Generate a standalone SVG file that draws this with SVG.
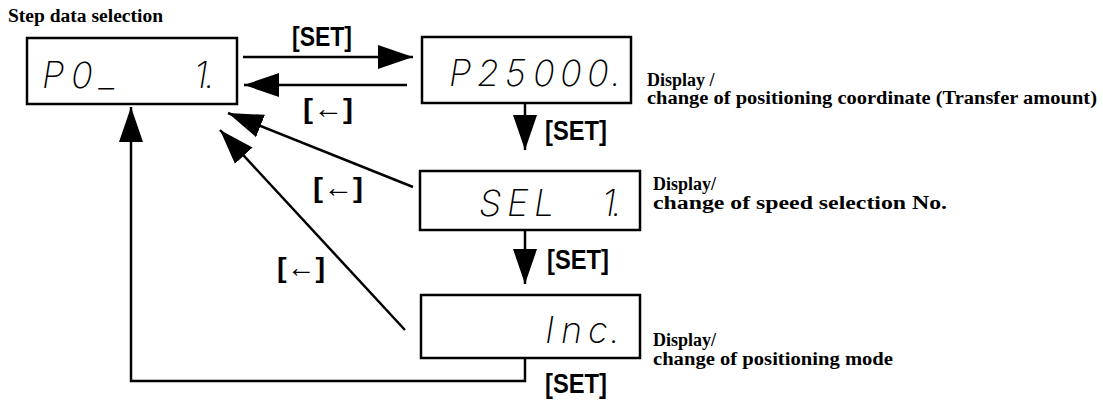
<svg xmlns="http://www.w3.org/2000/svg" width="1103" height="401" viewBox="0 0 1103 401">
<style>
.box{fill:#fff;stroke:#000;stroke-width:2.5}
.seg{font-family:Inter,"DejaVu Sans",sans-serif;font-weight:200;font-style:italic;font-size:36px;fill:#000}
.key{font-family:"Liberation Sans",sans-serif;font-weight:bold;font-size:28px;fill:#000}
.note{font-family:"Liberation Serif",serif;font-weight:bold;font-size:18px;fill:#000}
.ln{stroke:#000;stroke-width:2.5;fill:none}
</style>
<defs>
<marker id="ah" markerUnits="userSpaceOnUse" markerWidth="36" markerHeight="26" refX="35" refY="12" orient="auto" viewBox="0 0 36 24">
<path d="M0,0 L35,12 L0,24 Z" fill="#000"/>
</marker>
</defs>
<text class="note" x="8" y="22" textLength="155" lengthAdjust="spacingAndGlyphs">Step data selection</text>

<g id="connectors">
<line class="ln" x1="243" y1="57" x2="413" y2="57" marker-end="url(#ah)"/>
<line class="ln" x1="407" y1="85" x2="244" y2="85" marker-end="url(#ah)"/>
<line class="ln" x1="525" y1="103" x2="525" y2="150" marker-end="url(#ah)"/>
<line class="ln" x1="525" y1="230" x2="525" y2="284" marker-end="url(#ah)"/>
<line class="ln" x1="413" y1="187" x2="228" y2="113" marker-end="url(#ah)"/>
<line class="ln" x1="405" y1="330" x2="220" y2="130" marker-end="url(#ah)"/>
<polyline class="ln" points="525,358 525,381 131,381 131,107" marker-end="url(#ah)"/>
<text class="key" x="292" y="46" textLength="60" lengthAdjust="spacingAndGlyphs">[SET]</text>
<text class="key" x="303" y="118" textLength="50" lengthAdjust="spacingAndGlyphs">[←]</text>
<text class="key" x="545" y="140" textLength="62" lengthAdjust="spacingAndGlyphs">[SET]</text>
<text class="key" x="313" y="197" textLength="50" lengthAdjust="spacingAndGlyphs">[←]</text>
<text class="key" x="547" y="269" textLength="62" lengthAdjust="spacingAndGlyphs">[SET]</text>
<text class="key" x="277" y="277" textLength="48" lengthAdjust="spacingAndGlyphs">[←]</text>
<text class="key" x="545" y="393" textLength="62" lengthAdjust="spacingAndGlyphs">[SET]</text>
</g>

<g id="node-step">
<rect class="box" x="27" y="38" width="210" height="66"/>
<text class="seg" x="42 71 100 194 205" y="88">P0_1.</text>
</g>

<g id="node-coord">
<rect class="box" x="422" y="37" width="209" height="66"/>
<text class="seg" x="449 477 505 533 560 587 611" y="86">P25000.</text>
<text class="note" x="647" y="86">Display /</text>
<text class="note" x="647" y="104" textLength="450" lengthAdjust="spacingAndGlyphs">change of positioning coordinate (Transfer amount)</text>
</g>

<g id="node-speed">
<rect class="box" x="420" y="171" width="220" height="59"/>
<text class="seg" x="479 507 534 602 612" y="216">SEL1.</text>
<text class="note" x="653" y="190">Display/</text>
<text class="note" x="653" y="209" textLength="294" lengthAdjust="spacingAndGlyphs">change of speed selection No.</text>
</g>

<g id="node-mode">
<rect class="box" x="421" y="295" width="219" height="63"/>
<text class="seg" x="545 561 588 610" y="343">Inc.</text>
<text class="note" x="653" y="346">Display/</text>
<text class="note" x="653" y="365" textLength="240" lengthAdjust="spacingAndGlyphs">change of positioning mode</text>
</g>
</svg>
